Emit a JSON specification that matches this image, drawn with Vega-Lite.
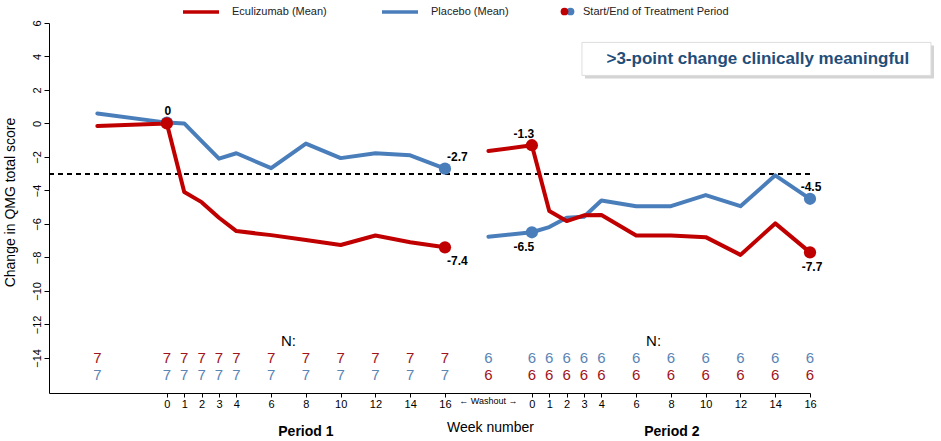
{
  "$schema": "https://vega.github.io/schema/vega-lite/v6.json",
  "width": 761,
  "height": 370,
  "autosize": {"type": "none"},
  "padding": {"left": 49, "top": 23, "right": 131, "bottom": 48},
  "config": {
    "font": "Liberation Sans",
    "view": {"stroke": null},
    "axis": {"grid": false, "domainColor": "black", "tickColor": "black", "labelColor": "black", "titleColor": "black"}
  },
  "datasets": {
    "scores": [
      {"period": 1, "arm": "Placebo (Mean)", "pos": -4, "value": 0.6},
      {"period": 1, "arm": "Placebo (Mean)", "pos": 0, "value": 0.05, "end": true},
      {"period": 1, "arm": "Placebo (Mean)", "pos": 1, "value": 0},
      {"period": 1, "arm": "Placebo (Mean)", "pos": 2, "value": -1.05},
      {"period": 1, "arm": "Placebo (Mean)", "pos": 3, "value": -2.1},
      {"period": 1, "arm": "Placebo (Mean)", "pos": 4, "value": -1.78},
      {"period": 1, "arm": "Placebo (Mean)", "pos": 6, "value": -2.67},
      {"period": 1, "arm": "Placebo (Mean)", "pos": 8, "value": -1.2},
      {"period": 1, "arm": "Placebo (Mean)", "pos": 10, "value": -2.07},
      {"period": 1, "arm": "Placebo (Mean)", "pos": 12, "value": -1.78},
      {"period": 1, "arm": "Placebo (Mean)", "pos": 14, "value": -1.9},
      {"period": 1, "arm": "Placebo (Mean)", "pos": 16, "value": -2.7, "end": true, "label": "-2.7"},
      {"period": 2, "arm": "Placebo (Mean)", "pos": 18.5, "value": -6.77},
      {"period": 2, "arm": "Placebo (Mean)", "pos": 21, "value": -6.5, "end": true, "label": "-6.5"},
      {"period": 2, "arm": "Placebo (Mean)", "pos": 22, "value": -6.19},
      {"period": 2, "arm": "Placebo (Mean)", "pos": 23, "value": -5.63},
      {"period": 2, "arm": "Placebo (Mean)", "pos": 24, "value": -5.57},
      {"period": 2, "arm": "Placebo (Mean)", "pos": 25, "value": -4.6},
      {"period": 2, "arm": "Placebo (Mean)", "pos": 27, "value": -4.94},
      {"period": 2, "arm": "Placebo (Mean)", "pos": 29, "value": -4.94},
      {"period": 2, "arm": "Placebo (Mean)", "pos": 31, "value": -4.28},
      {"period": 2, "arm": "Placebo (Mean)", "pos": 33, "value": -4.94},
      {"period": 2, "arm": "Placebo (Mean)", "pos": 35, "value": -3.1},
      {"period": 2, "arm": "Placebo (Mean)", "pos": 37, "value": -4.5, "end": true, "label": "-4.5"},
      {"period": 1, "arm": "Eculizumab (Mean)", "pos": -4, "value": -0.15},
      {"period": 1, "arm": "Eculizumab (Mean)", "pos": 0, "value": 0, "end": true, "label": "0"},
      {"period": 1, "arm": "Eculizumab (Mean)", "pos": 1, "value": -4.1},
      {"period": 1, "arm": "Eculizumab (Mean)", "pos": 2, "value": -4.7},
      {"period": 1, "arm": "Eculizumab (Mean)", "pos": 3, "value": -5.63},
      {"period": 1, "arm": "Eculizumab (Mean)", "pos": 4, "value": -6.43},
      {"period": 1, "arm": "Eculizumab (Mean)", "pos": 6, "value": -6.67},
      {"period": 1, "arm": "Eculizumab (Mean)", "pos": 8, "value": -6.96},
      {"period": 1, "arm": "Eculizumab (Mean)", "pos": 10, "value": -7.26},
      {"period": 1, "arm": "Eculizumab (Mean)", "pos": 12, "value": -6.69},
      {"period": 1, "arm": "Eculizumab (Mean)", "pos": 14, "value": -7.1},
      {"period": 1, "arm": "Eculizumab (Mean)", "pos": 16, "value": -7.4, "end": true, "label": "-7.4"},
      {"period": 2, "arm": "Eculizumab (Mean)", "pos": 18.5, "value": -1.65},
      {"period": 2, "arm": "Eculizumab (Mean)", "pos": 21, "value": -1.3, "end": true, "label": "-1.3"},
      {"period": 2, "arm": "Eculizumab (Mean)", "pos": 22, "value": -5.23},
      {"period": 2, "arm": "Eculizumab (Mean)", "pos": 23, "value": -5.83},
      {"period": 2, "arm": "Eculizumab (Mean)", "pos": 24, "value": -5.49},
      {"period": 2, "arm": "Eculizumab (Mean)", "pos": 25, "value": -5.47},
      {"period": 2, "arm": "Eculizumab (Mean)", "pos": 27, "value": -6.69},
      {"period": 2, "arm": "Eculizumab (Mean)", "pos": 29, "value": -6.69},
      {"period": 2, "arm": "Eculizumab (Mean)", "pos": 31, "value": -6.79},
      {"period": 2, "arm": "Eculizumab (Mean)", "pos": 33, "value": -7.85},
      {"period": 2, "arm": "Eculizumab (Mean)", "pos": 35, "value": -5.97},
      {"period": 2, "arm": "Eculizumab (Mean)", "pos": 37, "value": -7.7, "end": true, "label": "-7.7"}
    ],
    "counts": [
      {"row": "top", "arm": "Eculizumab (Mean)", "pos": -4, "n": "7"},
      {"row": "top", "arm": "Eculizumab (Mean)", "pos": 0, "n": "7"},
      {"row": "top", "arm": "Eculizumab (Mean)", "pos": 1, "n": "7"},
      {"row": "top", "arm": "Eculizumab (Mean)", "pos": 2, "n": "7"},
      {"row": "top", "arm": "Eculizumab (Mean)", "pos": 3, "n": "7"},
      {"row": "top", "arm": "Eculizumab (Mean)", "pos": 4, "n": "7"},
      {"row": "top", "arm": "Eculizumab (Mean)", "pos": 6, "n": "7"},
      {"row": "top", "arm": "Eculizumab (Mean)", "pos": 8, "n": "7"},
      {"row": "top", "arm": "Eculizumab (Mean)", "pos": 10, "n": "7"},
      {"row": "top", "arm": "Eculizumab (Mean)", "pos": 12, "n": "7"},
      {"row": "top", "arm": "Eculizumab (Mean)", "pos": 14, "n": "7"},
      {"row": "top", "arm": "Eculizumab (Mean)", "pos": 16, "n": "7"},
      {"row": "bottom", "arm": "Placebo (Mean)", "pos": -4, "n": "7"},
      {"row": "bottom", "arm": "Placebo (Mean)", "pos": 0, "n": "7"},
      {"row": "bottom", "arm": "Placebo (Mean)", "pos": 1, "n": "7"},
      {"row": "bottom", "arm": "Placebo (Mean)", "pos": 2, "n": "7"},
      {"row": "bottom", "arm": "Placebo (Mean)", "pos": 3, "n": "7"},
      {"row": "bottom", "arm": "Placebo (Mean)", "pos": 4, "n": "7"},
      {"row": "bottom", "arm": "Placebo (Mean)", "pos": 6, "n": "7"},
      {"row": "bottom", "arm": "Placebo (Mean)", "pos": 8, "n": "7"},
      {"row": "bottom", "arm": "Placebo (Mean)", "pos": 10, "n": "7"},
      {"row": "bottom", "arm": "Placebo (Mean)", "pos": 12, "n": "7"},
      {"row": "bottom", "arm": "Placebo (Mean)", "pos": 14, "n": "7"},
      {"row": "bottom", "arm": "Placebo (Mean)", "pos": 16, "n": "7"},
      {"row": "top", "arm": "Placebo (Mean)", "pos": 18.5, "n": "6"},
      {"row": "top", "arm": "Placebo (Mean)", "pos": 21, "n": "6"},
      {"row": "top", "arm": "Placebo (Mean)", "pos": 22, "n": "6"},
      {"row": "top", "arm": "Placebo (Mean)", "pos": 23, "n": "6"},
      {"row": "top", "arm": "Placebo (Mean)", "pos": 24, "n": "6"},
      {"row": "top", "arm": "Placebo (Mean)", "pos": 25, "n": "6"},
      {"row": "top", "arm": "Placebo (Mean)", "pos": 27, "n": "6"},
      {"row": "top", "arm": "Placebo (Mean)", "pos": 29, "n": "6"},
      {"row": "top", "arm": "Placebo (Mean)", "pos": 31, "n": "6"},
      {"row": "top", "arm": "Placebo (Mean)", "pos": 33, "n": "6"},
      {"row": "top", "arm": "Placebo (Mean)", "pos": 35, "n": "6"},
      {"row": "top", "arm": "Placebo (Mean)", "pos": 37, "n": "6"},
      {"row": "bottom", "arm": "Eculizumab (Mean)", "pos": 18.5, "n": "6"},
      {"row": "bottom", "arm": "Eculizumab (Mean)", "pos": 21, "n": "6"},
      {"row": "bottom", "arm": "Eculizumab (Mean)", "pos": 22, "n": "6"},
      {"row": "bottom", "arm": "Eculizumab (Mean)", "pos": 23, "n": "6"},
      {"row": "bottom", "arm": "Eculizumab (Mean)", "pos": 24, "n": "6"},
      {"row": "bottom", "arm": "Eculizumab (Mean)", "pos": 25, "n": "6"},
      {"row": "bottom", "arm": "Eculizumab (Mean)", "pos": 27, "n": "6"},
      {"row": "bottom", "arm": "Eculizumab (Mean)", "pos": 29, "n": "6"},
      {"row": "bottom", "arm": "Eculizumab (Mean)", "pos": 31, "n": "6"},
      {"row": "bottom", "arm": "Eculizumab (Mean)", "pos": 33, "n": "6"},
      {"row": "bottom", "arm": "Eculizumab (Mean)", "pos": 35, "n": "6"},
      {"row": "bottom", "arm": "Eculizumab (Mean)", "pos": 37, "n": "6"}
    ],
    "notes": [
      {"note": "N:"},
      {"note": "Period 1"},
      {"note": "Period 2"},
      {"note": "← Washout →"},
      {"note": ">3-point change clinically meaningful"}
    ]
  },
  "layer": [
    {
      "data": {"name": "scores"},
      "mark": {"type": "rule", "strokeDash": [5, 4], "strokeWidth": 1.4, "color": "black"},
      "encoding": {
        "y": {
          "datum": -3,
          "type": "quantitative",
          "scale": {"domain": [-16.1, 6], "nice": false, "zero": false},
          "axis": {
            "values": [-14, -12, -10, -8, -6, -4, -2, 0, 2, 4, 6],
            "tickCount": 50,
            "format": "d",
            "labelAngle": 270,
            "labelAlign": "center",
            "labelBaseline": "bottom",
            "labelFontSize": 11,
            "labelPadding": 2,
            "labelOverlap": false,
            "tickSize": 5,
            "title": "Change in QMG total score",
            "titleFontSize": 14,
            "titleFontWeight": "normal",
            "titleAngle": 270,
            "titleX": -39,
            "titleY": 179,
            "titleAlign": "center",
            "titleBaseline": "middle"
          }
        }
      }
    },
    {
      "data": {"name": "scores"},
      "mark": {"type": "line", "strokeWidth": 4, "strokeCap": "round", "strokeJoin": "round"},
      "encoding": {
        "x": {
          "field": "pos",
          "type": "quantitative",
          "scale": {"domain": [-6.78, 37], "nice": false, "zero": false},
          "axis": {
            "values": [0, 1, 2, 3, 4, 6, 8, 10, 12, 14, 16, 21, 22, 23, 24, 25, 27, 29, 31, 33, 35, 37],
            "tickCount": 50,
            "labelExpr": "datum.value >= 21 ? '' + (datum.value - 21) : '' + datum.value",
            "labelFontSize": 11,
            "labelPadding": 1,
            "labelFlush": false,
            "labelOverlap": false,
            "tickSize": 4,
            "title": "Week number",
            "titleFontSize": 14,
            "titleFontWeight": "normal",
            "titleX": 441,
            "titleY": 34,
            "titleAlign": "center",
            "titleBaseline": "middle"
          }
        },
        "y": {"field": "value", "type": "quantitative"},
        "detail": {"field": "period", "type": "nominal"},
        "color": {
          "field": "arm",
          "type": "nominal",
          "scale": {"domain": ["Eculizumab (Mean)", "Placebo (Mean)"], "range": ["#C00000", "#4A7EBB"]},
          "legend": {
            "title": null,
            "orient": "none",
            "direction": "horizontal",
            "legendX": 132,
            "legendY": -31,
            "padding": 0,
            "symbolType": "stroke",
            "symbolSize": 1296,
            "symbolStrokeWidth": 3.5,
            "labelFontSize": 11,
            "labelColor": "#222222",
            "labelOffset": 11,
            "labelLimit": 300,
            "columnPadding": 48
          }
        }
      }
    },
    {
      "data": {"name": "scores"},
      "transform": [{"filter": "datum.end === true"}],
      "mark": {"type": "point", "filled": true, "size": 150, "strokeWidth": 0},
      "encoding": {
        "x": {"field": "pos", "type": "quantitative"},
        "y": {"field": "value", "type": "quantitative"},
        "fill": {
          "field": "arm",
          "type": "nominal",
          "scale": {"domain": ["Eculizumab (Mean)", "Placebo (Mean)"], "range": ["#C00000", "#4A7EBB"]},
          "legend": null
        },
        "order": {"field": "arm", "type": "nominal", "sort": "descending"},
        "opacity": {
          "datum": " ",
          "type": "nominal",
          "scale": {"range": [1]},
          "legend": {
            "title": null,
            "orient": "none",
            "legendX": 510,
            "legendY": -17,
            "padding": 0,
            "symbolType": "circle",
            "symbolSize": 60,
            "symbolFillColor": "#C00000",
            "symbolStrokeWidth": 0,
            "symbolOpacity": 1,
            "labelFontSize": 11,
            "labelOffset": 0
          }
        },
        "shape": {
          "datum": "Start/End of Treatment Period",
          "type": "nominal",
          "scale": {"range": ["circle"]},
          "legend": {
            "title": null,
            "orient": "none",
            "legendX": 516,
            "legendY": -17,
            "padding": 0,
            "symbolSize": 60,
            "symbolFillColor": "#4A7EBB",
            "symbolStrokeWidth": 0,
            "symbolOpacity": 1,
            "labelFontSize": 11,
            "labelColor": "#222222",
            "labelOffset": 7,
            "labelLimit": 300
          }
        }
      }
    },
    {
      "data": {"name": "scores"},
      "transform": [{"filter": "datum.label === '0' || datum.label === '-4.5'"}],
      "mark": {"type": "text", "fontSize": 12, "fontWeight": "bold", "color": "black", "dx": 1, "dy": -12, "baseline": "middle"},
      "encoding": {"x": {"field": "pos", "type": "quantitative"}, "y": {"field": "value", "type": "quantitative"}, "text": {"field": "label", "type": "nominal"}}
    },
    {
      "data": {"name": "scores"},
      "transform": [{"filter": "datum.label === '-1.3'"}],
      "mark": {"type": "text", "fontSize": 12, "fontWeight": "bold", "color": "black", "dx": -8, "dy": -11, "baseline": "middle"},
      "encoding": {"x": {"field": "pos", "type": "quantitative"}, "y": {"field": "value", "type": "quantitative"}, "text": {"field": "label", "type": "nominal"}}
    },
    {
      "data": {"name": "scores"},
      "transform": [{"filter": "datum.label === '-6.5'"}],
      "mark": {"type": "text", "fontSize": 12, "fontWeight": "bold", "color": "black", "dx": -8, "dy": 15, "baseline": "middle"},
      "encoding": {"x": {"field": "pos", "type": "quantitative"}, "y": {"field": "value", "type": "quantitative"}, "text": {"field": "label", "type": "nominal"}}
    },
    {
      "data": {"name": "scores"},
      "transform": [{"filter": "datum.label === '-7.7'"}],
      "mark": {"type": "text", "fontSize": 12, "fontWeight": "bold", "color": "black", "dx": 2, "dy": 15, "baseline": "middle"},
      "encoding": {"x": {"field": "pos", "type": "quantitative"}, "y": {"field": "value", "type": "quantitative"}, "text": {"field": "label", "type": "nominal"}}
    },
    {
      "data": {"name": "scores"},
      "transform": [{"filter": "datum.label === '-2.7'"}],
      "mark": {"type": "text", "fontSize": 12, "fontWeight": "bold", "color": "black", "align": "left", "dx": 2, "dy": -12, "baseline": "middle"},
      "encoding": {"x": {"field": "pos", "type": "quantitative"}, "y": {"field": "value", "type": "quantitative"}, "text": {"field": "label", "type": "nominal"}}
    },
    {
      "data": {"name": "scores"},
      "transform": [{"filter": "datum.label === '-7.4'"}],
      "mark": {"type": "text", "fontSize": 12, "fontWeight": "bold", "color": "black", "align": "left", "dx": 2, "dy": 14, "baseline": "middle"},
      "encoding": {"x": {"field": "pos", "type": "quantitative"}, "y": {"field": "value", "type": "quantitative"}, "text": {"field": "label", "type": "nominal"}}
    },
    {
      "data": {"name": "counts"},
      "transform": [{"filter": "datum.row === 'top'"}],
      "mark": {"type": "text", "fontSize": 15, "baseline": "middle"},
      "encoding": {
        "x": {"field": "pos", "type": "quantitative"},
        "y": {"datum": -14, "type": "quantitative"},
        "text": {"field": "n", "type": "nominal"},
        "color": {"condition": {"test": "datum.arm === 'Placebo (Mean)'", "value": "#5A85B5"}, "value": "#A0141C"}
      }
    },
    {
      "data": {"name": "counts"},
      "transform": [{"filter": "datum.row === 'bottom'"}],
      "mark": {"type": "text", "fontSize": 15, "baseline": "middle"},
      "encoding": {
        "x": {"field": "pos", "type": "quantitative"},
        "y": {"datum": -15, "type": "quantitative"},
        "text": {"field": "n", "type": "nominal"},
        "color": {"condition": {"test": "datum.arm === 'Placebo (Mean)'", "value": "#5A85B5"}, "value": "#A0141C"}
      }
    },
    {
      "data": {"name": "notes"},
      "transform": [{"filter": "datum.note === 'N:'"}],
      "mark": {"type": "text", "fontSize": 15, "color": "black", "baseline": "middle"},
      "encoding": {"x": {"datum": 7, "type": "quantitative"}, "y": {"datum": -13, "type": "quantitative"}, "text": {"field": "note", "type": "nominal"}}
    },
    {
      "data": {"name": "notes"},
      "transform": [{"filter": "datum.note === 'N:'"}],
      "mark": {"type": "text", "fontSize": 15, "color": "black", "baseline": "middle"},
      "encoding": {"x": {"datum": 28, "type": "quantitative"}, "y": {"datum": -13, "type": "quantitative"}, "text": {"field": "note", "type": "nominal"}}
    },
    {
      "data": {"name": "notes"},
      "transform": [{"filter": "datum.note === '← Washout →'"}],
      "mark": {"type": "text", "fontSize": 9, "color": "black", "baseline": "middle"},
      "encoding": {"x": {"datum": 18.5, "type": "quantitative"}, "y": {"datum": -16.55, "type": "quantitative"}, "text": {"field": "note", "type": "nominal"}}
    },
    {
      "data": {"name": "notes"},
      "transform": [{"filter": "datum.note === 'Period 1'"}],
      "mark": {"type": "text", "fontSize": 14, "fontWeight": "bold", "color": "black", "baseline": "middle"},
      "encoding": {"x": {"datum": 8, "type": "quantitative"}, "y": {"datum": -18.4, "type": "quantitative"}, "text": {"field": "note", "type": "nominal"}}
    },
    {
      "data": {"name": "notes"},
      "transform": [{"filter": "datum.note === 'Period 2'"}],
      "mark": {"type": "text", "fontSize": 14, "fontWeight": "bold", "color": "black", "baseline": "middle"},
      "encoding": {"x": {"datum": 29.05, "type": "quantitative"}, "y": {"datum": -18.4, "type": "quantitative"}, "text": {"field": "note", "type": "nominal"}}
    },
    {
      "data": {"name": "notes"},
      "transform": [{"filter": "datum.note === '>3-point change clinically meaningful'"}],
      "mark": {"type": "rect", "fill": "#b0b0b0", "opacity": 0.55, "xOffset": 3, "x2Offset": 3, "yOffset": 3, "y2Offset": 3},
      "encoding": {"x": {"datum": 23.88, "type": "quantitative"}, "x2": {"datum": 43.96}, "y": {"datum": 4.84, "type": "quantitative"}, "y2": {"datum": 2.87}}
    },
    {
      "data": {"name": "notes"},
      "transform": [{"filter": "datum.note === '>3-point change clinically meaningful'"}],
      "mark": {"type": "rect", "fill": "white", "stroke": "#dddddd", "strokeWidth": 1},
      "encoding": {"x": {"datum": 23.88, "type": "quantitative"}, "x2": {"datum": 43.96}, "y": {"datum": 4.84, "type": "quantitative"}, "y2": {"datum": 2.87}}
    },
    {
      "data": {"name": "notes"},
      "transform": [{"filter": "datum.note === '>3-point change clinically meaningful'"}],
      "mark": {"type": "text", "fontSize": 17, "fontWeight": "bold", "color": "#1F4E79", "baseline": "middle"},
      "encoding": {"x": {"datum": 34, "type": "quantitative"}, "y": {"datum": 3.84, "type": "quantitative"}, "text": {"field": "note", "type": "nominal"}}
    }
  ]
}
